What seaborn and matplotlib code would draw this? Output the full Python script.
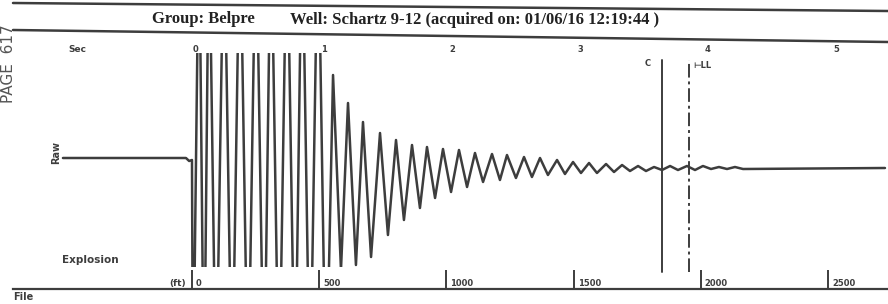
import numpy as np
import pandas as pd
import matplotlib
matplotlib.use("Agg")
import matplotlib.pyplot as plt
import matplotlib.transforms as mtransforms
from matplotlib.lines import Line2D
import seaborn as sns

# ---------------- data ----------------
title_group = "Group: Belpre"
title_well = "Well: Schartz 9-12 (acquired on: 01/06/16 12:19:44 )"

# pre-shot baseline (seconds, deflection)
pre_t = [-1.016, -0.055, -0.030, -0.008]
pre_amp = [2, 2, -1, 0]

# oscillation turning points after the shot
peak_t = [0.047, 0.125, 0.242, 0.367, 0.492, 0.609, 0.734, 0.852, 0.977,
          1.094, 1.211, 1.328, 1.461, 1.586, 1.711, 1.828, 1.953, 2.078,
          2.203, 2.336, 2.453, 2.586, 2.711, 2.844, 2.969, 3.094, 3.227,
          3.352, 3.477, 3.602, 3.727, 3.859, 3.984, 4.109, 4.234]
peak_amp = [250, 250, 250, 250, 250, 250, 250, 250, 250,
            85, 57, 38, 27, 20, 15, 13, 11, 10,
            7, 6, 5, 3, 2, 0, -2, -3, -4,
            -5, -6, -7, -6, -6, -6, -7, -7]
trough_t = [0.000, 0.086, 0.180, 0.305, 0.430, 0.555, 0.672, 0.797, 0.914,
            1.039, 1.156, 1.273, 1.391, 1.523, 1.648, 1.773, 1.891, 2.016,
            2.141, 2.266, 2.398, 2.523, 2.648, 2.773, 2.906, 3.031, 3.156,
            3.289, 3.414, 3.539, 3.664, 3.789, 3.922, 4.047, 4.172, 4.297]
trough_amp = [-250, -250, -250, -250, -250, -250, -250, -250, -250,
              -250, -110, -105, -97, -75, -60, -48, -38, -32,
              -27, -22, -20, -18, -17, -15, -14, -13, -13,
              -12, -11, -11, -10, -10, -10, -9, -9, -9]
tail_t = [5.406]
tail_amp = [-8]

# top time scale (sec) and bottom depth scale (ft)
sec_ticks = [0, 1, 2, 3, 4, 5]
ft_ticks = [0, 500, 1000, 1500, 2000, 2500]
ft_labels = ["0", "500", "1000", "1500", "2000", "2500"]

# marker lines (sec)
marker_t = [3.664, 3.875]
marker_labels = ["C", "LL"]

# ---------------- figure ----------------
sns.set_theme(style="white")
plt.rcParams["font.family"] = ["DejaVu Sans"]

ink = "#3d3d3d"
W, H = 888, 304
fig = plt.figure(figsize=(W / 100, H / 100), dpi=100)
fig.patch.set_facecolor("white")

def fx(px):
    return px / W

def fy(py):
    return 1 - py / H

# header lines and title
fig.add_artist(Line2D([fx(13), fx(888)], [fy(3), fy(11)], transform=fig.transFigure,
                      color=ink, lw=1.8))
fig.add_artist(Line2D([fx(13), fx(888)], [fy(30), fy(42)], transform=fig.transFigure,
                      color=ink, lw=1.8))
fig.text(fx(152), fy(19), title_group, ha="left", va="center", fontsize=12,
         family="Liberation Serif", weight="bold", color="#222222")
fig.text(fx(290), fy(20), title_well, ha="left", va="center", fontsize=12,
         family="Liberation Serif", weight="bold", color="#222222")

# page stamp on the left edge
fig.text(fx(1), fy(64), "PAGE  617", rotation=90, ha="left", va="center",
         fontsize=11, color="#555555")

# ---------------- trace axes ----------------
ax = fig.add_axes([0, fy(267), 1, fy(53) - fy(267)])
ax.set_facecolor("none")

wave = pd.DataFrame({
    "t": pre_t + peak_t + trough_t + tail_t,
    "amp": pre_amp + peak_amp + trough_amp + tail_amp,
}).sort_values("t").reset_index(drop=True)

sns.lineplot(data=wave, x="t", y="amp", sort=False, estimator=None, ax=ax,
             color=ink, linewidth=1.8)
ax.set_xlim((0 - 193) / 128, (888 - 193) / 128)
ax.set_ylim(-107, 107)
ax.set_axis_off()

# marker lines
ax.axvline(marker_t[0], ymin=-0.025, ymax=0.967, color=ink, lw=1.4, clip_on=False)
ax.axvline(marker_t[1], ymin=-0.025, ymax=0.967, color=ink, lw=1.4,
           linestyle=(0, (7, 2, 1.5, 2)), clip_on=False)
tr_c = mtransforms.offset_copy(ax.get_xaxis_transform(), fig=fig, x=-14, y=0, units="dots")
ax.text(marker_t[0], 0.953, marker_labels[0], transform=tr_c, ha="center", va="center",
        fontsize=6, weight="bold", color=ink)
tr_l = mtransforms.offset_copy(ax.get_xaxis_transform(), fig=fig, x=4, y=0, units="dots")
ax.text(marker_t[1], 0.94, "\u22a2" + marker_labels[1], transform=tr_l, ha="left",
        va="center", fontsize=6, weight="bold", color=ink)

# top time labels
tr_s = mtransforms.offset_copy(ax.get_xaxis_transform(), fig=fig, x=0, y=0, units="dots")
for s in sec_ticks:
    ax.text(s, 1.015, str(s), transform=tr_s, ha="left", va="center",
            fontsize=6, weight="bold", color=ink)
ax.text(-0.90, 1.015, "Sec", transform=ax.get_xaxis_transform(), ha="center",
        va="center", fontsize=6.5, weight="bold", color=ink)

# left labels
fig.text(fx(56), fy(153), "Raw", rotation=90, ha="center", va="center",
         fontsize=7, weight="bold", color=ink)
fig.text(fx(62), fy(260), "Explosion", ha="left", va="center", fontsize=7.5,
         weight="bold", color=ink)

# ---------------- depth scale axes ----------------
bx = fig.add_axes([0, fy(289), 1, fy(269) - fy(289)])
bx.set_facecolor("none")
bx.set_xlim((0 - 192) / 0.2544, (888 - 192) / 0.2544)
bx.set_ylim(0, 1)
for side in ["top", "left", "right"]:
    bx.spines[side].set_visible(False)
bx.spines["bottom"].set_color(ink)
bx.spines["bottom"].set_linewidth(1.6)
bx.spines["bottom"].set_bounds((13 - 192) / 0.2544, (888 - 192) / 0.2544)
bx.set_yticks([])
bx.set_xticks(ft_ticks)
bx.set_xticklabels([])
bx.tick_params(axis="x", direction="in", length=14, width=1.4, color=ink, bottom=True)

tr_b = mtransforms.offset_copy(bx.transData, fig=fig, x=4, y=1, units="dots")
for v, lab in zip(ft_ticks, ft_labels):
    bx.text(v, 0, lab, transform=tr_b, ha="left", va="bottom", fontsize=6,
            weight="bold", color=ink)
tr_ft = mtransforms.offset_copy(bx.transData, fig=fig, x=-6, y=1, units="dots")
bx.text(0, 0, "(ft)", transform=tr_ft, ha="right", va="bottom", fontsize=6.5,
        weight="bold", color=ink)

fig.text(fx(13), fy(302), "File", ha="left", va="bottom", fontsize=7,
         weight="bold", color=ink)

fig.savefig("out.png", dpi=100, facecolor="white")
